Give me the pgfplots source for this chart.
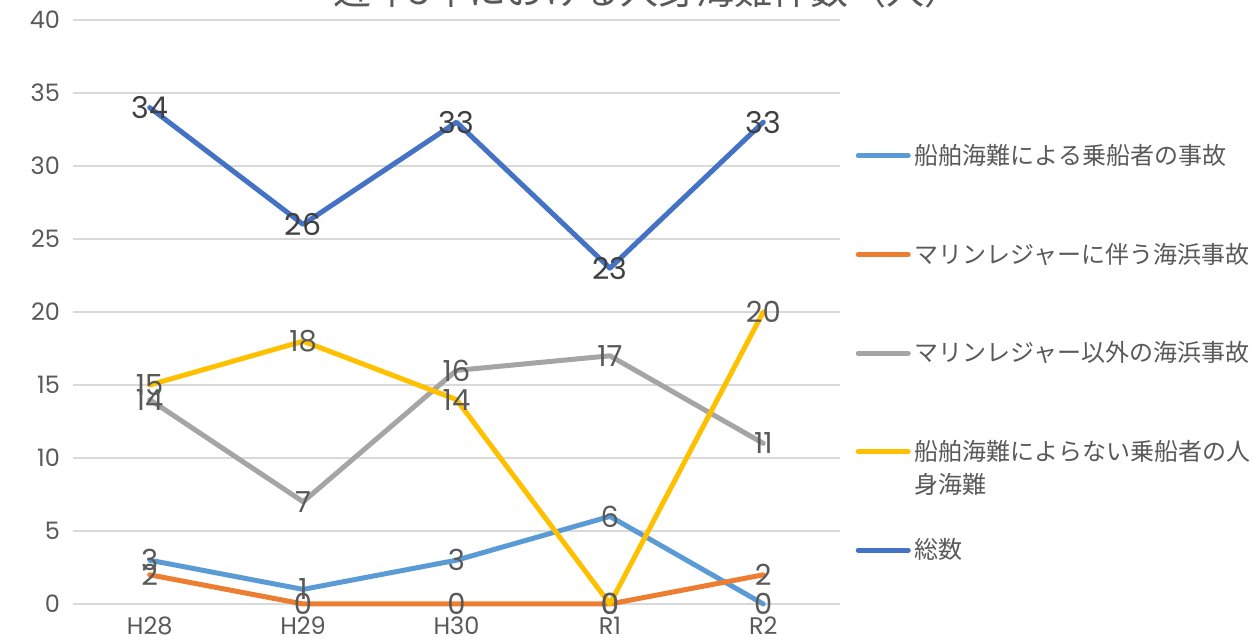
\documentclass[border=0pt]{standalone}
\usepackage{fontspec}
\setmainfont{Poppins}
\newfontfamily\jp{Noto Sans CJK JP}
\usepackage{pgfplots}
\pgfplotsset{compat=1.18}
\definecolor{cA}{HTML}{5B9BD5}
\definecolor{cB}{HTML}{ED7D31}
\definecolor{cC}{HTML}{A5A5A5}
\definecolor{cD}{HTML}{FFC000}
\definecolor{cE}{HTML}{4472C4}
\definecolor{gridgray}{HTML}{D9D9D9}
\definecolor{labgray}{HTML}{595959}
\definecolor{dark}{HTML}{404040}
\begin{document}
\begin{tikzpicture}
\begin{axis}[
  scale only axis, width=383.5pt, height=292pt,
  xmin=-0.5, xmax=4.5, ymin=0, ymax=40,
  xtick={0,1,2,3,4}, xticklabels={H28,H29,H30,R1,R2},
  ytick={0,5,...,40},
  ymajorgrids, grid style={line width=0.8pt, color=gridgray},
  axis line style={draw=none}, major tick length=0pt,
  tick label style={font=\fontsize{12}{14}\selectfont, text=labgray},
  xticklabel style={yshift=-3pt},
  yticklabel style={xshift=-3pt},
  /pgf/number format/assume math mode=true,
  clip=false,
  every axis plot/.append style={line width=2.5pt, line join=round, line cap=round},
  nodes near coords,
  every node near coord/.append style={anchor=center, font=\fontsize{14.5}{16}\selectfont, text=labgray},
  legend style={at={(1.02,0.795)}, anchor=north west, draw=none, fill=none,
    font=\jp\fontsize{12}{14}\selectfont, text=labgray, row sep=33.8pt, inner sep=0pt},
  legend cell align=left,
  legend image code/.code={\draw[line width=2.5pt, line cap=round] (0pt,0pt) -- (25pt,0pt);},
]
\addplot[cA] coordinates {(0,3) (1,1) (2,3) (3,6) (4,0)};
\addlegendentry{\strut 船舶海難による乗船者の事故}
\addplot[cB] coordinates {(0,2) (1,0) (2,0) (3,0) (4,2)};
\addlegendentry{\strut マリンレジャーに伴う海浜事故}
\addplot[cC] coordinates {(0,14) (1,7) (2,16) (3,17) (4,11)};
\addlegendentry{\strut マリンレジャー以外の海浜事故}
\addplot[cD] coordinates {(0,15) (1,18) (2,14) (3,0) (4,20)};
\addlegendentry{\strut\smash{\parbox[t]{160pt}{\fontsize{12}{16.5}\selectfont 船舶海難によらない乗船者の人\\身海難}}}
\addplot[cE, every node near coord/.append style={text=dark, font=\fontsize{15}{16}\selectfont}] coordinates {(0,34) (1,26) (2,33) (3,23) (4,33)};
\addlegendentry{\strut 総数}
\node[font=\jp\fontsize{19}{22}\selectfont, text=labgray] at (rel axis cs:0.75,1.052) {近年5年における人身海難件数（人）};
\end{axis}
\pgfresetboundingbox
\useasboundingbox (-36.5pt,-19pt) rectangle (590pt,302pt);
\end{tikzpicture}
\end{document}
